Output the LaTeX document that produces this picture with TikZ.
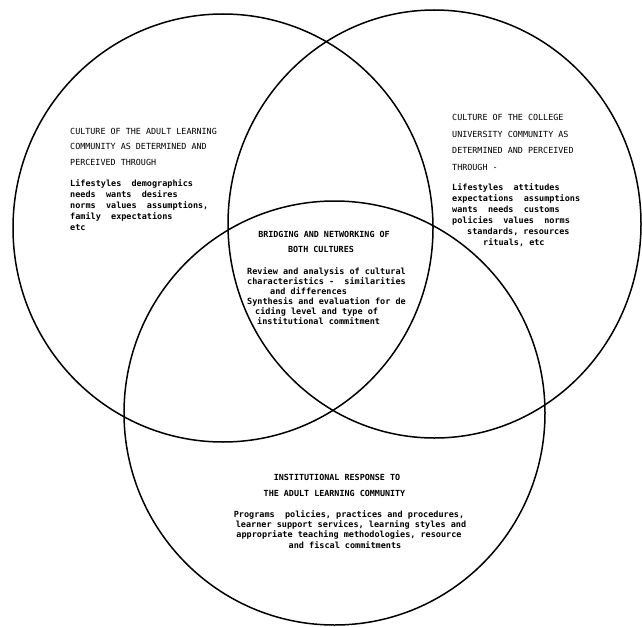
\documentclass[tikz,border=0pt]{standalone}
\usepackage{fontspec}
\setmonofont{DejaVu Sans Mono}
\begin{document}
\begin{tikzpicture}[x=1pt,y=-1pt,
  ring/.style={draw=black,line width=1.5pt},
  ttl/.style={inner sep=0pt,font=\ttfamily\fontsize{8.4}{10}\selectfont},
  ttlb/.style={inner sep=0pt,font=\ttfamily\bfseries\fontsize{8.4}{10}\selectfont},
  bdy/.style={inner sep=0pt,font=\ttfamily\bfseries\fontsize{8.5}{10}\selectfont}]
\useasboundingbox (0,0) rectangle (642,626);
\fill[white] (0,0) rectangle (642,626);
% circles
\draw[ring] (223,228) ellipse [x radius=210pt, y radius=214pt];
\draw[ring] (434.5,224) ellipse [x radius=206.5pt, y radius=214pt];
\draw[ring] (334.5,413) ellipse [x radius=210.5pt, y radius=212pt];
% left region
\node[ttl,anchor=base west] (lt1) at (70,134) {CULTURE OF THE ADULT LEARNING};
\node[ttl,anchor=base west] (lt2) at (70,149.5) {COMMUNITY AS DETERMINED AND};
\node[ttl,anchor=base west] (lt3) at (70,165) {PERCEIVED THROUGH};
\node[bdy,anchor=base west] (lb1) at (70,186) {Lifestyles~ demographics};
\node[bdy,anchor=base west] (lb2) at (70,197) {needs~ wants~ desires};
\node[bdy,anchor=base west] (lb3) at (70,208) {norms~ values~ assumptions,};
\node[bdy,anchor=base west] (lb4) at (70,219) {family~ expectations};
\node[bdy,anchor=base west] (lb5) at (70,230) {etc};
% right region
\node[ttl,anchor=base west] (rt1) at (452,120) {CULTURE OF THE COLLEGE};
\node[ttl,anchor=base west] (rt2) at (452,137) {UNIVERSITY COMMUNITY AS};
\node[ttl,anchor=base west] (rt3) at (452,153.5) {DETERMINED AND PERCEIVED};
\node[ttl,anchor=base west] (rt4) at (452,170) {THROUGH -};
\node[bdy,anchor=base west] (rb1) at (452,190) {Lifestyles~ attitudes};
\node[bdy,anchor=base west] (rb2) at (452,201) {expectations~ assumptions};
\node[bdy,anchor=base west] (rb3) at (452,212) {wants~ needs~ customs};
\node[bdy,anchor=base west] (rb4) at (452,223) {policies~ values~ norms};
\node[bdy,anchor=base west] (rb5) at (467,234) {standards, resources};
\node[bdy,anchor=base west] (rb6) at (483,245) {rituals, etc};
% centre region
\node[ttlb,anchor=base] (ct1) at (324,237) {BRIDGING AND NETWORKING OF};
\node[ttlb,anchor=base] (ct2) at (321,252.5) {BOTH CULTURES};
\node[bdy,anchor=base west] (cb1) at (247,274.5) {Review and analysis of cultural};
\node[bdy,anchor=base west] (cb2) at (247,284.5) {characteristics -~ similarities};
\node[bdy,anchor=base west] (cb3) at (270,294.5) {and differences};
\node[bdy,anchor=base west] (cb4) at (247,304.5) {Synthesis and evaluation for de};
\node[bdy,anchor=base west] (cb5) at (255,314.5) {ciding level and type of};
\node[bdy,anchor=base west] (cb6) at (257,324.5) {institutional commitment};
% bottom region
\node[ttlb,anchor=base] (bt1) at (337,480) {INSTITUTIONAL RESPONSE TO};
\node[ttlb,anchor=base] (bt2) at (334.5,496) {THE ADULT LEARNING COMMUNITY};
\node[bdy,anchor=base] (bb1) at (349,517.5) {Programs~ policies, practices and procedures,};
\node[bdy,anchor=base] (bb2) at (351,527.7) {learner support services, learning styles and};
\node[bdy,anchor=base] (bb3) at (349,537.9) {appropriate teaching methodologies, resource};
\node[bdy,anchor=base] (bb4) at (345,548.1) {and fiscal commitments};
\end{tikzpicture}
\end{document}
